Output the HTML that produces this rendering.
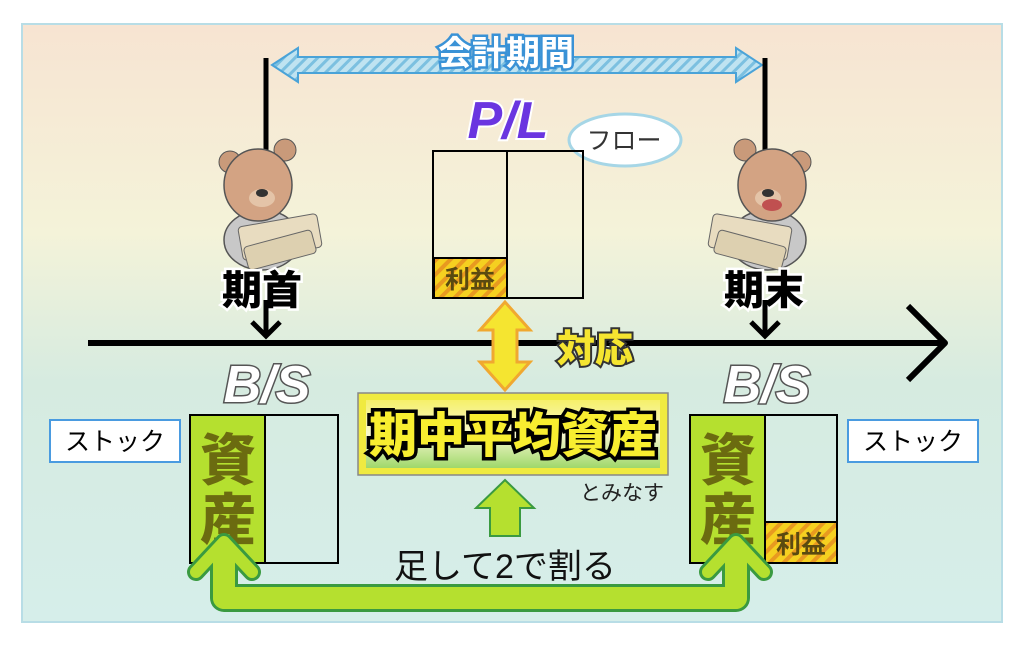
<!DOCTYPE html>
<html><head><meta charset="utf-8"><style>
html,body{margin:0;padding:0;background:#fff;}
svg{display:block;}
text{font-family:"Liberation Sans","Noto Sans CJK JP",sans-serif;}
</style></head><body>
<svg width="1024" height="646" viewBox="0 0 1024 646" xmlns="http://www.w3.org/2000/svg">
<defs>
<linearGradient id="bg" x1="0" y1="0" x2="0" y2="1">
<stop offset="0" stop-color="#f7e4d2"/><stop offset="0.35" stop-color="#f4f3d9"/><stop offset="0.6" stop-color="#d6ebe0"/><stop offset="1" stop-color="#d6eeea"/>
</linearGradient>
<linearGradient id="cb" x1="0" y1="0" x2="0" y2="1">
<stop offset="0" stop-color="#f6f06a"/><stop offset="0.5" stop-color="#f8f8d0"/><stop offset="1" stop-color="#9fd86a"/>
</linearGradient>
<pattern id="hatch" width="8" height="8" patternUnits="userSpaceOnUse" patternTransform="rotate(45)">
<rect width="8" height="8" fill="#bfe3f1"/><rect width="3" height="8" fill="#7cc0e0"/>
</pattern>
<pattern id="stripe" width="10" height="10" patternUnits="userSpaceOnUse" patternTransform="rotate(45)">
<rect width="10" height="10" fill="#f5d020"/><rect width="4" height="10" fill="#e89a20"/>
</pattern>
</defs>
<rect x="22" y="24" width="980" height="598" fill="url(#bg)" stroke="#b8dde6" stroke-width="2"/>
<!-- period arrow -->
<polygon points="272,65 298,48 298,57 736,57 736,48 762,65 736,82 736,73 298,73 298,82" fill="url(#hatch)" stroke="#4aa3d8" stroke-width="2"/>
<text x="506" y="65" font-size="34" font-weight="bold" text-anchor="middle" fill="#fff" stroke="#3a92d6" stroke-width="5" paint-order="stroke">会計期間</text>
<!-- vertical lines -->
<line x1="266" y1="58" x2="266" y2="150" stroke="#000" stroke-width="5"/>
<line x1="765" y1="58" x2="765" y2="150" stroke="#000" stroke-width="5"/>
<!-- bears -->
<g id="bear1">
<ellipse cx="262" cy="240" rx="38" ry="30" fill="#c8c8c8" stroke="#555" stroke-width="1.5"/>
<circle cx="230" cy="162" r="11" fill="#c99a7a" stroke="#555"/>
<circle cx="285" cy="150" r="11" fill="#c99a7a" stroke="#555"/>
<ellipse cx="258" cy="185" rx="34" ry="36" fill="#d3a383" stroke="#555" stroke-width="1.5"/>
<ellipse cx="262" cy="198" rx="13" ry="9" fill="#e4c4a8"/>
<ellipse cx="262" cy="193" rx="6" ry="4" fill="#333"/>
<rect x="240" y="220" width="80" height="34" rx="4" fill="#e8dcc0" stroke="#666" transform="rotate(-10 280 237)"/>
<rect x="245" y="238" width="70" height="24" rx="4" fill="#ddd0b0" stroke="#666" transform="rotate(-15 280 250)"/>
</g>
<g transform="translate(1030,0) scale(-1,1)"><use href="#bear1"/></g>
<ellipse cx="772" cy="205" rx="10" ry="6" fill="#c05050"/>
<text x="262" y="304" font-size="40" font-weight="900" text-anchor="middle" fill="#000" stroke="#fff" stroke-width="5" paint-order="stroke">期首</text>
<text x="764" y="304" font-size="40" font-weight="900" text-anchor="middle" fill="#000" stroke="#fff" stroke-width="5" paint-order="stroke">期末</text>
<!-- P/L -->
<text x="508" y="138" font-size="52" font-weight="900" font-style="italic" text-anchor="middle" fill="#6a35e0" stroke="#fff" stroke-width="4" paint-order="stroke">P/L</text>
<ellipse cx="625" cy="140" rx="56" ry="26" fill="#fff" stroke="#a6d6e6" stroke-width="3"/>
<text x="624" y="149" font-size="25" text-anchor="middle" fill="#333">フロー</text>
<rect x="433" y="151" width="150" height="147" fill="none" stroke="#000" stroke-width="2"/>
<line x1="507" y1="151" x2="507" y2="298" stroke="#000" stroke-width="2"/>
<rect x="434" y="258" width="73" height="40" fill="url(#stripe)" stroke="#000" stroke-width="2"/>
<text x="470" y="288" font-size="25" font-weight="bold" text-anchor="middle" fill="#5a4a10">利益</text>
<!-- axis -->
<line x1="88" y1="343" x2="945" y2="343" stroke="#000" stroke-width="6"/>
<polyline points="908,306 945,343 908,380" fill="none" stroke="#000" stroke-width="6" stroke-linejoin="round"/>
<line x1="266" y1="300" x2="266" y2="336" stroke="#000" stroke-width="5"/>
<polyline points="252,322 266,336 280,322" fill="none" stroke="#000" stroke-width="5"/>
<line x1="765" y1="300" x2="765" y2="336" stroke="#000" stroke-width="5"/>
<polyline points="751,322 765,336 779,322" fill="none" stroke="#000" stroke-width="5"/>
<!-- yellow double arrow -->
<polygon points="505,302 530,330 517,330 517,362 530,362 505,390 480,362 493,362 493,330 480,330" fill="#f5e530" stroke="#f0a830" stroke-width="3"/>
<text x="595" y="362" font-size="38" font-weight="900" text-anchor="middle" fill="#f5e530" stroke="#333" stroke-width="4" paint-order="stroke">対応</text>
<!-- B/S -->
<text x="267" y="402" font-size="52" font-weight="900" font-style="italic" text-anchor="middle" fill="#fff" stroke="#555" stroke-width="3" paint-order="stroke">B/S</text>
<text x="767" y="402" font-size="52" font-weight="900" font-style="italic" text-anchor="middle" fill="#fff" stroke="#555" stroke-width="3" paint-order="stroke">B/S</text>
<!-- stock boxes -->
<rect x="50" y="420" width="130" height="42" fill="#fff" stroke="#4a9be0" stroke-width="2"/>
<text x="115" y="450" font-size="25" text-anchor="middle" fill="#000">ストック</text>
<rect x="848" y="420" width="130" height="42" fill="#fff" stroke="#4a9be0" stroke-width="2"/>
<text x="913" y="450" font-size="25" text-anchor="middle" fill="#000">ストック</text>
<!-- left BS -->
<rect x="190" y="415" width="148" height="148" fill="none" stroke="#000" stroke-width="2"/>
<rect x="190" y="415" width="75" height="148" fill="#b5e02f" stroke="#000" stroke-width="2"/>
<text x="228" y="480" font-size="56" font-weight="900" text-anchor="middle" fill="#6b6b10">資</text>
<text x="228" y="540" font-size="56" font-weight="900" text-anchor="middle" fill="#6b6b10">産</text>
<!-- right BS -->
<rect x="690" y="415" width="147" height="148" fill="none" stroke="#000" stroke-width="2"/>
<rect x="690" y="415" width="75" height="148" fill="#b5e02f" stroke="#000" stroke-width="2"/>
<rect x="765" y="522" width="72" height="41" fill="url(#stripe)" stroke="#000" stroke-width="2"/>
<text x="801" y="553" font-size="25" font-weight="bold" text-anchor="middle" fill="#5a4a10">利益</text>
<text x="728" y="480" font-size="56" font-weight="900" text-anchor="middle" fill="#6b6b10">資</text>
<text x="728" y="540" font-size="56" font-weight="900" text-anchor="middle" fill="#6b6b10">産</text>
<!-- center box -->
<rect x="358" y="393" width="310" height="82" fill="#f0ea40" stroke="#888" stroke-width="1.5"/>
<rect x="366" y="400" width="294" height="68" fill="url(#cb)"/>
<text x="513" y="452" font-size="48" font-weight="900" text-anchor="middle" fill="#f8ee30" stroke="#000" stroke-width="7" paint-order="stroke">期中平均資産</text>
<text x="622" y="500" font-size="21" text-anchor="middle" fill="#222">とみなす</text>
<!-- up arrow -->
<polygon points="505,480 534,508 520,508 520,536 490,536 490,508 476,508" fill="#b5e02f" stroke="#3a9a40" stroke-width="2"/>
<text x="505" y="578" font-size="34" text-anchor="middle" fill="#111">足して2で割る</text>
<!-- U arrow -->
<path d="M224,544 L224,598 L736,598 L736,544" fill="none" stroke="#3a9a40" stroke-width="28" stroke-linejoin="round"/>
<path d="M224,544 L224,598 L736,598 L736,544" fill="none" stroke="#b5e02f" stroke-width="22" stroke-linejoin="round"/>
<polyline points="196,572 224,542 252,572" fill="none" stroke="#3a9a40" stroke-width="18" stroke-linecap="round" stroke-linejoin="round"/>
<polyline points="196,572 224,542 252,572" fill="none" stroke="#b5e02f" stroke-width="12" stroke-linecap="round" stroke-linejoin="round"/>
<polyline points="708,572 736,542 764,572" fill="none" stroke="#3a9a40" stroke-width="18" stroke-linecap="round" stroke-linejoin="round"/>
<polyline points="708,572 736,542 764,572" fill="none" stroke="#b5e02f" stroke-width="12" stroke-linecap="round" stroke-linejoin="round"/>
<path d="M224,548 L224,598 L736,598 L736,548" fill="none" stroke="#b5e02f" stroke-width="22" stroke-linejoin="round"/>
</svg>
</body></html>
